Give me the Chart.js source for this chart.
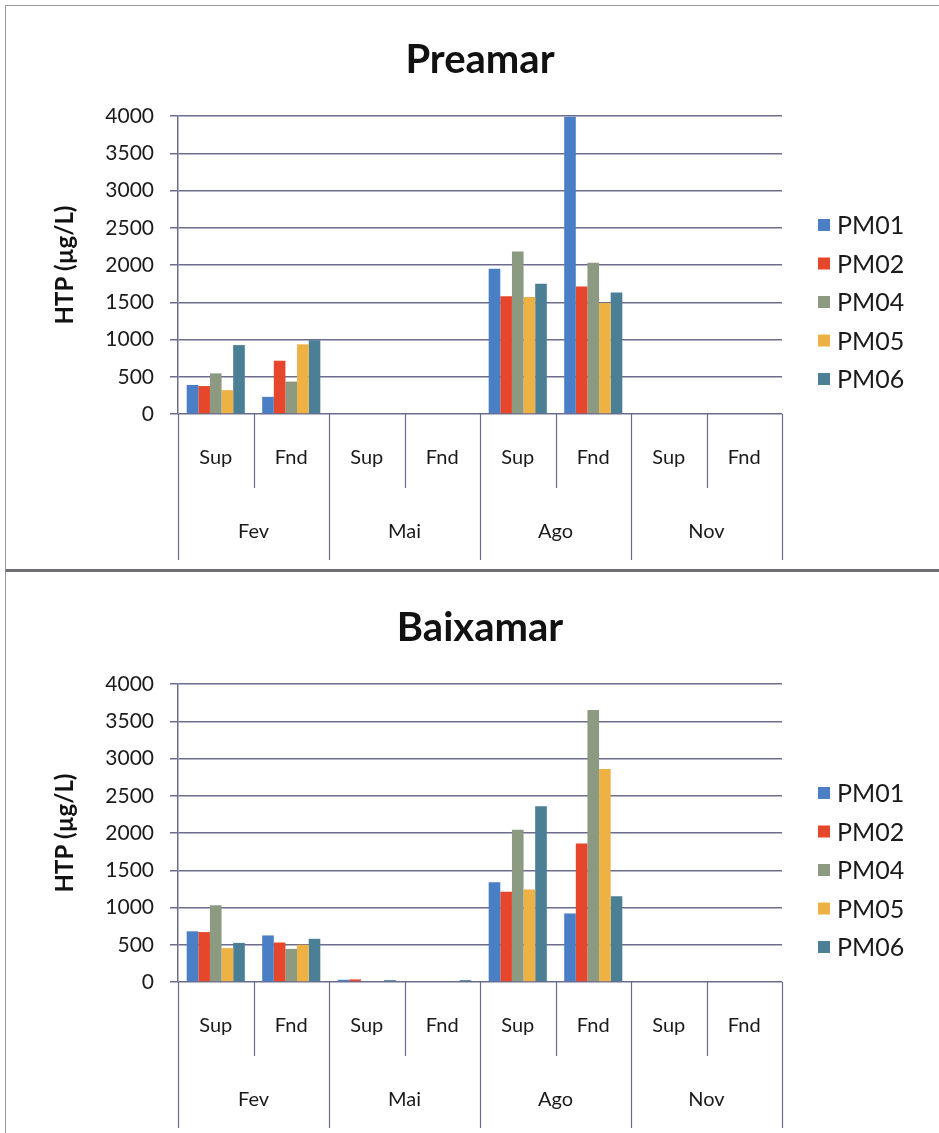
<!DOCTYPE html>
<html>
<head>
<meta charset="utf-8">
<script src="https://cdn.jsdelivr.net/npm/chart.js@4"></script>
<style>
  html, body { margin: 0; padding: 0; background: #fff; }
  body { width: 939px; height: 1133px; position: relative; overflow: hidden; }
  .panel { position: absolute; left: 5px; width: 960px; box-sizing: border-box; }
  #panelTop { top: 5px; height: 567px; border-top: 1.5px solid #9a9aa0; border-left: 1.5px solid #9a9aa0; border-bottom: 3px solid #6e6e74; }
  #panelBottom { top: 572px; height: 600px; border-left: 1.5px solid #9a9aa0; }
  canvas { position: absolute; left: 6px; }
  #chartTop { top: 6px; }
  #chartBottom { top: 574px; }
</style>
</head>
<body>
<div class="panel" id="panelTop"></div>
<div class="panel" id="panelBottom"></div>
<canvas id="chartTop" width="933" height="560"></canvas>
<canvas id="chartBottom" width="933" height="560"></canvas>
<script>
const categories = ['Sup', 'Fnd', 'Sup', 'Fnd', 'Sup', 'Fnd', 'Sup', 'Fnd'];
const months = ['Fev', 'Mai', 'Ago', 'Nov'];
const seriesNames = ['PM01', 'PM02', 'PM04', 'PM05', 'PM06'];
const yTicks = [0, 500, 1000, 1500, 2000, 2500, 3000, 3500, 4000];

// Preamar (high tide), HTP in µg/L
const preamarPM01 = [390, 230, null, null, 1950, 3990, null, null];
const preamarPM02 = [375, 715, null, null, 1580, 1710, null, null];
const preamarPM04 = [545, 435, null, null, 2180, 2030, null, null];
const preamarPM05 = [320, 935, null, null, 1570, 1490, null, null];
const preamarPM06 = [925, 990, null, null, 1750, 1630, null, null];

// Baixamar (low tide)
const baixamarPM01 = [680, 625, 30, null, 1340, 920, null, null];
const baixamarPM02 = [670, 530, 35, null, 1210, 1860, null, null];
const baixamarPM04 = [1030, 445, null, null, 2045, 3650, null, null];
const baixamarPM05 = [455, 500, null, null, 1240, 2860, null, null];
const baixamarPM06 = [525, 580, 25, 25, 2360, 1150, null, null];

const colors = ['#4a7fc6', '#e6462b', '#8b9a80', '#eeb244', '#4a7f95'];
const gridColor = '#6c6c8c';
const fontFamily = 'Lato, "Open Sans", sans-serif';

// Sup/Fnd labels with the month row underneath, plus the separator lines
const groupAxis = {
    id: 'groupAxis',
    afterDraw(chart) {
        const { ctx, chartArea, scales: { x } } = chart;
        const first = x.getPixelForValue(0);
        const step = x.getPixelForValue(1) - first;
        const bottom = chartArea.bottom;
        ctx.save();
        ctx.strokeStyle = gridColor;
        ctx.lineWidth = 1.2;
        for (let i = 0; i <= categories.length; i++) {
            const px = Math.round(first - step / 2 + i * step) + 0.5;
            const end = i % 2 === 0 ? chart.height - 6 : bottom + 74;
            ctx.beginPath();
            ctx.moveTo(px, bottom);
            ctx.lineTo(px, end);
            ctx.stroke();
        }
        ctx.fillStyle = '#1a1a1a';
        ctx.textAlign = 'center';
        ctx.textBaseline = 'middle';
        ctx.font = '20px ' + fontFamily;
        categories.forEach((c, i) => {
            ctx.fillText(c, first + i * step, bottom + 44);
        });
        months.forEach((m, i) => {
            ctx.fillText(m, first + (2 * i + 0.5) * step, bottom + 118);
        });
        ctx.restore();
    }
};

// Legend on the right with small square swatches
const sideLegend = {
    id: 'sideLegend',
    afterDraw(chart) {
        const { ctx, chartArea } = chart;
        const left = chartArea.right + 36;
        ctx.save();
        ctx.font = '25px ' + fontFamily;
        ctx.textBaseline = 'middle';
        ctx.textAlign = 'left';
        chart.data.datasets.forEach((ds, i) => {
            const cy = chartArea.top + 109 + i * 38.5;
            ctx.fillStyle = ds.backgroundColor;
            ctx.fillRect(left, cy - 6, 12, 12);
            ctx.fillStyle = '#1a1a1a';
            ctx.fillText(ds.label, left + 19, cy + 1);
        });
        ctx.restore();
    }
};

function makeChart(canvasId, title, series) {
    return new Chart(document.getElementById(canvasId), {
        type: 'bar',
        data: {
            labels: categories,
            datasets: series.map((values, i) => ({
                label: seriesNames[i],
                data: values,
                backgroundColor: colors[i],
                borderWidth: 0,
                barPercentage: 1.0,
                categoryPercentage: 0.77
            }))
        },
        options: {
            responsive: false,
            animation: false,
            layout: { padding: { right: 157 } },
            plugins: {
                legend: { display: false },
                tooltip: { enabled: false },
                title: {
                    display: true,
                    text: title,
                    fullSize: false,
                    color: '#111',
                    font: { family: fontFamily, size: 40, weight: 'bold' },
                    padding: { top: 30, bottom: 32 }
                }
            },
            scales: {
                x: {
                    grid: { display: false },
                    border: { display: false },
                    ticks: { display: false },
                    afterFit: (s) => { s.height = 152; }
                },
                y: {
                    min: 0,
                    max: 4000,
                    afterBuildTicks: (s) => { s.ticks = yTicks.map(v => ({ value: v })); },
                    grid: { color: gridColor, lineWidth: 1.5, tickLength: 8 },
                    border: { color: gridColor, width: 1.5 },
                    ticks: {
                        color: '#1a1a1a',
                        padding: 16,
                        font: { family: fontFamily, size: 21 },
                        callback: (v) => String(v)
                    },
                    title: {
                        display: true,
                        text: 'HTP (µg/L)',
                        color: '#111',
                        font: { family: fontFamily, size: 24, weight: 'bold' },
                        padding: { top: 45, bottom: 0 }
                    },
                    afterFit: (s) => { s.width = 172; }
                }
            }
        },
        plugins: [groupAxis, sideLegend]
    });
}

makeChart('chartTop', 'Preamar',
    [preamarPM01, preamarPM02, preamarPM04, preamarPM05, preamarPM06]);
makeChart('chartBottom', 'Baixamar',
    [baixamarPM01, baixamarPM02, baixamarPM04, baixamarPM05, baixamarPM06]);
</script>
</body>
</html>
